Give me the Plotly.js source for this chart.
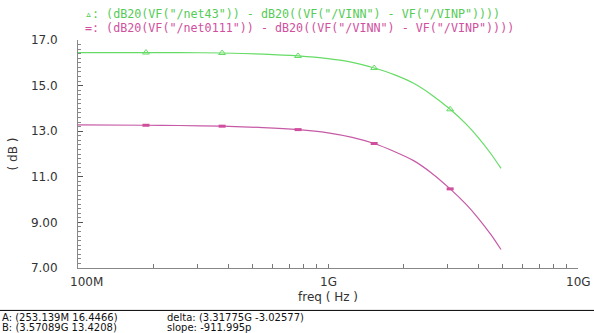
<!DOCTYPE html>
<html><head><meta charset="utf-8">
<script src="https://cdn.plot.ly/plotly-3.0.1.min.js"></script>
<style>body{margin:0;background:#fff}#c{width:594px;height:333px}</style>
</head><body><div id="c"></div>
<script>
// frequency samples (Hz)
const freq = [1e8, 1.87e8, 2.53e8, 3.77e8, 5.5e8, 7.59e8, 1.0e9, 1.25e9, 1.53e9, 1.85e9, 2.2e9, 2.6e9, 3.08e9, 3.57e9, 4.0e9, 4.5e9, 4.92e9];
// green trace: net43 gain (dB)
const gainNet43 = [16.45, 16.45, 16.45, 16.43, 16.38, 16.30, 16.18, 16.02, 15.77, 15.47, 15.10, 14.59, 13.96, 13.31, 12.71, 11.99, 11.37];
// magenta trace: net0111 gain (dB)
const gainNet0111 = [13.28, 13.26, 13.25, 13.22, 13.16, 13.07, 12.93, 12.73, 12.46, 12.10, 11.71, 11.16, 10.47, 9.79, 9.17, 8.44, 7.81];
// marker positions
const markFreq = [1.87e8, 3.77e8, 7.59e8, 1.53e9, 3.08e9];
const markNet43 = [16.45, 16.43, 16.30, 15.77, 13.96];
const markNet0111 = [13.26, 13.22, 13.07, 12.46, 10.47];
// tick labels
const yTicks = [7, 9, 11, 13, 15, 17];
const yTickText = ["7.00", "9.00", "11.0", "13.0", "15.0", "17.0"];
const xTicks = [1e8,2e8,3e8,4e8,5e8,6e8,7e8,8e8,9e8,1e9,2e9,3e9,4e9,5e9,6e9,7e9,8e9,9e9,1e10];
const xLabelVals = [8, 9, 10];
const xLabelText = ["100M", "1G", "10G"];
const legend1 = '\u25B5: (dB20(VF("/net43")) - dB20((VF("/VINN") - VF("/VINP"))))';
const legend2 = '=: (dB20(VF("/net0111")) - dB20((VF("/VINN") - VF("/VINP"))))';
const cursorA = "A: (253.139M 16.4466)";
const cursorB = "B: (3.57089G 13.4208)";
const deltaTxt = "delta: (3.31775G -3.02577)";
const slopeTxt = "slope: -911.995p";

const GREEN = "#66dc66", MAG = "#c65aa6";
const W = 594, H = 333, L = 78, R = 16, T = 40, B = 64.5;
const pw = W - L - R, ph = H - T - B;
const px = x => (x - L) / pw;        // pixel -> paper x
const py = y => (H - B - y) / ph;    // pixel -> paper y

const traces = [
  {x: freq, y: gainNet43, mode: "lines", line: {color: GREEN, width: 1.2, shape: "spline", smoothing: 0.6}, hoverinfo: "skip"},
  {x: freq, y: gainNet0111, mode: "lines", line: {color: MAG, width: 1.2, shape: "spline", smoothing: 0.6}, hoverinfo: "skip"},
  {x: markFreq, y: markNet43, mode: "markers", marker: {symbol: "triangle-up-open", size: 6, color: GREEN, line: {width: 1, color: GREEN}}},
  {x: markFreq, y: markNet0111, mode: "markers", marker: {symbol: "line-ew-open", size: 5, color: "#d04e9e", line: {width: 3, color: "#d04e9e"}}}
];

const tf = {family: "DejaVu Sans", size: 12, color: "#333"};
const bf = {family: "DejaVu Sans", size: 10, color: "#111"};
const ann = (x, y, text, opts) => Object.assign({xref: "paper", yref: "paper", x: px(x), y: py(y), text, showarrow: false, yanchor: "middle", font: tf}, opts || {});

const annotations = [
  ann(83, 14, legend1, {xanchor: "left", font: {family: "DejaVu Sans Mono", size: 11.7, color: "#55cc55"}}),
  ann(83, 28, legend2, {xanchor: "left", font: {family: "DejaVu Sans Mono", size: 11.7, color: "#d0509e"}}),
  ann(328, 298, "freq ( Hz )", {xanchor: "center"}),
  ann(0, 318, cursorA, {xanchor: "left", font: bf}),
  ann(0, 328, cursorB, {xanchor: "left", font: bf}),
  ann(165, 318, deltaTxt, {xanchor: "left", font: bf}),
  ann(165, 328, slopeTxt, {xanchor: "left", font: bf})
];
xLabelVals.forEach((v, i) => annotations.push({
  xref: "x", yref: "paper", x: v, y: py(283), text: xLabelText[i], showarrow: false,
  yanchor: "middle", xanchor: i === 0 ? "left" : "center", xshift: i === 0 ? -10 : 0, font: tf
}));

const layout = {
  width: W, height: H, showlegend: false,
  margin: {l: L, r: R, t: T, b: B},
  paper_bgcolor: "#fff", plot_bgcolor: "#fff",
  xaxis: {type: "log", range: [8, 10], tickvals: xTicks, ticks: "inside", ticklen: 4, tickcolor: "#777",
          showline: true, linecolor: "#888", linewidth: 1, showgrid: false, zeroline: false,
          showticklabels: false},
  yaxis: {range: [7, 17], tickvals: yTicks, ticktext: yTickText, ticks: "inside", ticklen: 5, tickcolor: "#555",
          minor: {dtick: 0.2, ticks: "inside", ticklen: 3, tickcolor: "#888", showgrid: false},
          showline: true, linecolor: "#888", linewidth: 1, showgrid: false, zeroline: false,
          tickfont: tf, ticklabelstandoff: 17,
          title: {text: "( dB )", font: tf, standoff: 10}},
  annotations,
  shapes: [
    {type: "line", xref: "paper", yref: "paper", x0: px(0), x1: px(594), y0: py(311), y1: py(311), line: {color: "#000", width: 1}}
  ]
};
Plotly.newPlot("c", traces, layout, {staticPlot: true});
</script></body></html>
